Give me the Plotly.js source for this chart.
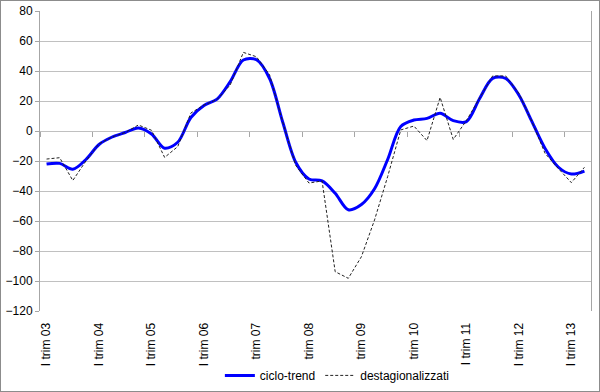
<!DOCTYPE html>
<html>
<head>
<meta charset="utf-8">
<script src="https://cdn.plot.ly/plotly-3.0.1.min.js"></script>
<style>
html,body{margin:0;padding:0;background:#fff;}
#chart{width:598px;height:390px;border:1px solid #8c8c8c;}
</style>
</head>
<body>
<div id="chart"></div>
<script>
// Quarters 2003 Q1 .. 2013 Q2
const years = ["03","04","05","06","07","08","09","10","11","12","13"];
const quarters = ["I","II","III","IV"];
const categories = [];
years.forEach(y => quarters.forEach(q => categories.push(q + " trim " + y)));
categories.length = 42;

const cicloTrend = [
  -22, -21.6, -25.5, -19, -9, -4, -1, 2,
  -2, -11.5, -7.5, 9, 17, 21.3, 33, 47.3,
  47.5, 35, 6, -21, -32, -33.3, -41.5, -52.5,
  -49, -38.5, -19, 3, 7.3, 8.4, 11.8, 6.9,
  6.2, 21.5, 35.1, 35, 24, 6.2, -11.6, -24,
  -28.7, -26.7
];
const destagionalizzati = [
  -18.7, -17.8, -33, -20, -8.5, -4, -1, 4,
  0.5, -17.6, -10.4, 12, 17.3, 21, 30.7, 52.4,
  49.5, 37.5, 6, -23, -34.7, -33.3, -93.8, -98.2,
  -83.8, -59.3, -30.4, 0.7, 3.3, -6.4, 22.4, -5.6,
  6.9, 21.8, 36.7, 36.7, 25.1, 6.2, -14.9, -24.9,
  -34.4, -24.2
];
const yTicks = [-120, -100, -80, -60, -40, -20, 0, 20, 40, 60, 80];

const idx = categories.map((c, i) => i);
const labelIdx = idx.filter(i => i % 4 === 0);
const labelText = labelIdx.map(i => categories[i]);
const boundaryIdx = idx.filter(i => i % 4 === 0).map(i => i - 0.5);

const font = {family: "Liberation Sans, Arial, sans-serif", size: 12, color: "#000"};

const traces = [
  {
    x: idx, y: cicloTrend, name: "ciclo-trend", type: "scatter", mode: "lines",
    line: {color: "#0000ff", width: 3, shape: "spline", smoothing: 0.9},
    xaxis: "x", yaxis: "y"
  },
  {
    x: idx, y: destagionalizzati, name: "destagionalizzati", type: "scatter", mode: "lines",
    line: {color: "#222", width: 1, dash: "3px,2px"},
    xaxis: "x2", yaxis: "y"
  }
];

const layout = {
  width: 598, height: 390,
  margin: {l: 39, r: 8, t: 10, b: 80},
  paper_bgcolor: "#fff", plot_bgcolor: "#fff",
  font: font,
  showlegend: true,
  legend: {
    orientation: "h", xref: "container", yref: "container",
    x: 0.366, xanchor: "left", y: 0.04, yanchor: "middle",
    font: font, itemwidth: 30, tracegroupgap: 0
  },
  xaxis: {
    range: [-0.5, 41.5], tickmode: "array", tickvals: labelIdx, ticktext: labelText,
    tickangle: -90, ticks: "outside", ticklen: 6, tickcolor: "rgba(0,0,0,0)",
    showgrid: false, zeroline: false, showline: false,
    tickfont: font, fixedrange: true
  },
  xaxis2: {
    range: [-0.5, 41.5], overlaying: "x", anchor: "free", position: 0.6, side: "bottom",
    tickmode: "array", tickvals: boundaryIdx, ticks: "outside", ticklen: 5, tickcolor: "#a6a6a6",
    tickwidth: 1, showticklabels: false, showgrid: false, zeroline: false, showline: false
  },
  yaxis: {
    range: [-120, 80], tickmode: "array", tickvals: yTicks,
    showgrid: true, gridcolor: "#c0c0c0", gridwidth: 1,
    zeroline: false, showline: true, mirror: true, linecolor: "#a6a6a6", linewidth: 1,
    ticks: "outside", ticklen: 4, tickcolor: "#a6a6a6", tickfont: font
  }
};

Plotly.newPlot("chart", traces, layout, {displayModeBar: false, staticPlot: true});
</script>
</body>
</html>
